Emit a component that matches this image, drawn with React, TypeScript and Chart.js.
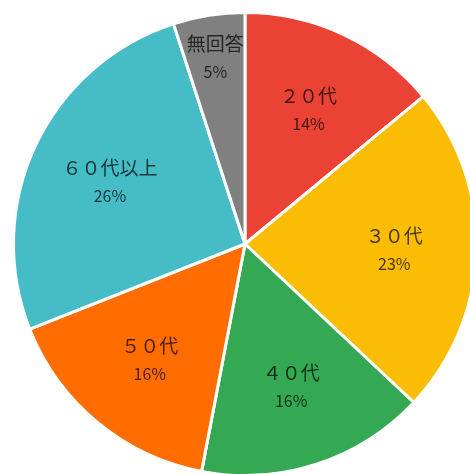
import React, { useEffect, useRef } from "react";
import { Chart, registerables } from "chart.js";

Chart.register(...registerables);

const categories = ["２０代", "３０代", "４０代", "５０代", "６０代以上", "無回答"];
const values = [14, 23, 16, 16, 26, 5];
const colors = ["#EA4335", "#FBBC04", "#34A853", "#FF6D01", "#46BDC6", "#808080"];

const labelPlugin = {
  id: "sliceLabels",
  afterDatasetsDraw(chart: any) {
    const ctx = chart.ctx;
    const meta = chart.getDatasetMeta(0);
    const data = chart.data.datasets[0].data as number[];
    const total = data.reduce((a: number, b: number) => a + b, 0);
    meta.data.forEach((arc: any, i: number) => {
      const { x, y, startAngle, endAngle, outerRadius } = arc.getProps(
        ["x", "y", "startAngle", "endAngle", "outerRadius"],
        true
      );
      const mid = (startAngle + endAngle) / 2;
      const share = data[i] / total;
      const f = share < 0.08 ? 0.82 : 0.645;
      const cx = x + Math.cos(mid) * outerRadius * f;
      const cy = y + Math.sin(mid) * outerRadius * f;
      ctx.save();
      ctx.textAlign = "center";
      ctx.textBaseline = "middle";
      ctx.fillStyle = "rgba(0,0,0,0.72)";
      ctx.font = '19px "Noto Sans CJK JP", sans-serif';
      ctx.fillText(chart.data.labels[i], cx, cy - 13);
      ctx.font = '16px "Noto Sans CJK JP", sans-serif';
      ctx.fillText(Math.round(share * 100) + "%", cx, cy + 15);
      ctx.restore();
    });
  },
};

export default function App() {
  const ref = useRef<HTMLCanvasElement | null>(null);
  useEffect(() => {
    if (!ref.current) return;
    const chart = new Chart(ref.current, {
      type: "pie",
      data: {
        labels: categories,
        datasets: [
          {
            data: values,
            backgroundColor: colors,
            borderColor: "#ffffff",
            borderWidth: 3,
          },
        ],
      },
      options: {
        animation: false,
        responsive: false,
        maintainAspectRatio: false,
        layout: { padding: { left: 12, top: 11, right: 12, bottom: 11 } },
        plugins: {
          legend: { display: false },
          tooltip: { enabled: false },
        },
      },
      plugins: [labelPlugin],
    });
    return () => chart.destroy();
  }, []);
  return (
    <div
      style={{
        position: "fixed",
        left: 0,
        top: 0,
        width: 470,
        height: 474,
        overflow: "hidden",
        background: "#ffffff",
      }}
    >
      <canvas
        ref={ref}
        width={490}
        height={488}
        style={{ position: "absolute", left: 0, top: 0, width: 490, height: 488 }}
      />
    </div>
  );
}
